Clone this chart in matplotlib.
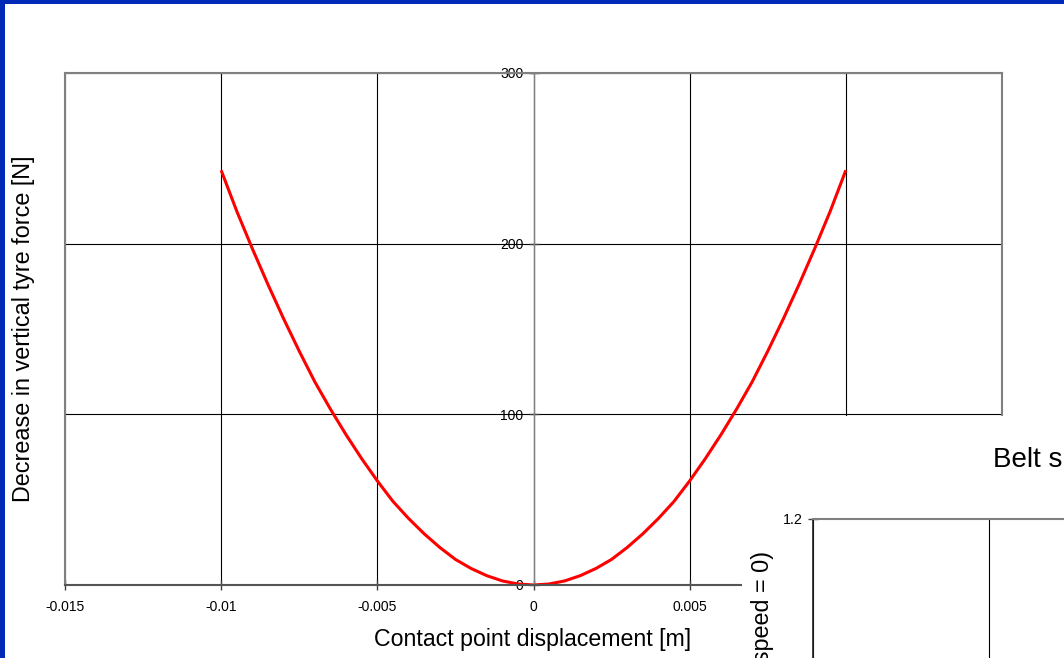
import matplotlib
matplotlib.use("Agg")
import matplotlib.pyplot as plt
from matplotlib.patches import Rectangle

plt.rcParams['font.family'] = ['Liberation Sans', 'DejaVu Sans']

# Contact point displacement [m] and the resulting drop in vertical tyre force [N]
displacement_m = [
    -0.0100, -0.0095, -0.0090, -0.0085, -0.0080, -0.0075, -0.0070, -0.0065,
    -0.0060, -0.0055, -0.0050, -0.0045, -0.0040, -0.0035, -0.0030, -0.0025,
    -0.0020, -0.0015, -0.0010, -0.0005, 0.0000,
    0.0005, 0.0010, 0.0015, 0.0020, 0.0025, 0.0030, 0.0035, 0.0040,
    0.0045, 0.0050, 0.0055, 0.0060, 0.0065, 0.0070, 0.0075, 0.0080,
    0.0085, 0.0090, 0.0095, 0.0100,
]
force_drop_n = [
    243, 219, 197, 176, 156, 137, 119, 103,
    88, 74, 61, 49, 39, 30, 22, 15,
    9.7, 5.5, 2.4, 0.6, 0,
    0.6, 2.4, 5.5, 9.7, 15, 22, 30, 39,
    49, 61, 74, 88, 103, 119, 137, 156,
    176, 197, 219, 243,
]

x_ticks = [-0.015, -0.01, -0.005, 0, 0.005, 0.01, 0.015]
x_tick_labels = ["-0.015", "-0.01", "-0.005", "0", "0.005", "0.01", "0.015"]
y_ticks = [0, 100, 200, 300]
y_tick_labels = ["0", "100", "200", "300"]

# second (belt speed) panel: only its upper-left corner is on the slide
belt_x_ticks = [0, 1, 2]
belt_y_ticks = [1.2]
belt_y_tick_labels = ["1.2"]

W, H = 1064, 658
fig = plt.figure(figsize=(W / 100, H / 100), dpi=100, facecolor='white')


def box(left, top, right, bottom):
    """Axes rectangle from pixel edges (origin top-left)."""
    return [left / W, 1 - bottom / H, (right - left) / W, (bottom - top) / H]


def pt(x, y):
    return (x / W, 1 - y / H)


FRAME = '#808080'
AXIS = '#404040'

# ---- tyre force chart ----
ax = fig.add_axes(box(65, 73, 1002, 585))
ax.plot(displacement_m, force_drop_n, color='#FF0000', lw=2.2,
        solid_joinstyle='round', solid_capstyle='butt')
ax.set_xlim(-0.015, 0.015)
ax.set_ylim(0, 300)
ax.set_xticks(x_ticks, x_tick_labels)
ax.set_yticks(y_ticks, y_tick_labels)
ax.grid(True, color='black', lw=0.8)

ax.spines['left'].set_position(('data', 0))
ax.spines['left'].set_color(FRAME)
ax.spines['left'].set_linewidth(1.0)
for side in ('top', 'right'):
    ax.spines[side].set_color(FRAME)
    ax.spines[side].set_linewidth(1.5)
ax.spines['bottom'].set_color('#555555')
ax.spines['bottom'].set_linewidth(1.5)
ax.axvline(-0.015, color=FRAME, lw=1.5, clip_on=False)

ax.tick_params(axis='x', direction='inout', length=7.2, width=1, color=AXIS,
               labelsize=10, pad=7.5)
ax.tick_params(axis='y', direction='inout', length=7.2, width=1, color=AXIS,
               labelsize=10, pad=3.6)

fig.text(*pt(533, 646), "Contact point displacement [m]", ha='center',
         va='baseline', fontsize=16.7)
fig.text(*pt(24, 329), "Decrease in vertical tyre force [N]", rotation=90,
         ha='center', va='center', fontsize=16.8)

# ---- belt speed chart (overlapping panel) ----
fig.add_artist(Rectangle(pt(742, 658), (W - 742) / W, (658 - 416) / H,
                         transform=fig.transFigure, facecolor='white',
                         edgecolor='none', zorder=1))

bx = fig.add_axes(box(813, 519, 1165, 1419))
bx.set_zorder(2)
bx.set_xlim(0, 2)
bx.set_ylim(0, 1.2)
bx.set_xticks(belt_x_ticks)
bx.set_xticklabels([])
bx.tick_params(axis='x', length=0)
bx.set_yticks(belt_y_ticks, belt_y_tick_labels)
bx.tick_params(axis='y', direction='inout', length=7.2, width=1, color=AXIS,
               labelsize=10.3, pad=3.6)
bx.grid(True, axis='x', color='black', lw=0.8)
bx.spines['left'].set_color('#202020')
bx.spines['left'].set_linewidth(1.2)
bx.spines['top'].set_color(FRAME)
bx.spines['top'].set_linewidth(1.5)

fig.text(*pt(993, 467), "Belt speed", ha='left', va='baseline', fontsize=20,
         zorder=3)
fig.text(*pt(763, 551), "Normalised force (belt speed = 0)", rotation=90,
         ha='center', va='top', fontsize=16.8, zorder=3)

# ---- slide border ----
BLUE = '#0029B8'
fig.add_artist(Rectangle((0, 1 - 4 / H), 1, 4 / H, transform=fig.transFigure,
                         facecolor=BLUE, edgecolor='none', zorder=5))
fig.add_artist(Rectangle((0, 0), 5 / W, 1, transform=fig.transFigure,
                         facecolor=BLUE, edgecolor='none', zorder=5))

fig.savefig('out.png', dpi=100, facecolor='white')
